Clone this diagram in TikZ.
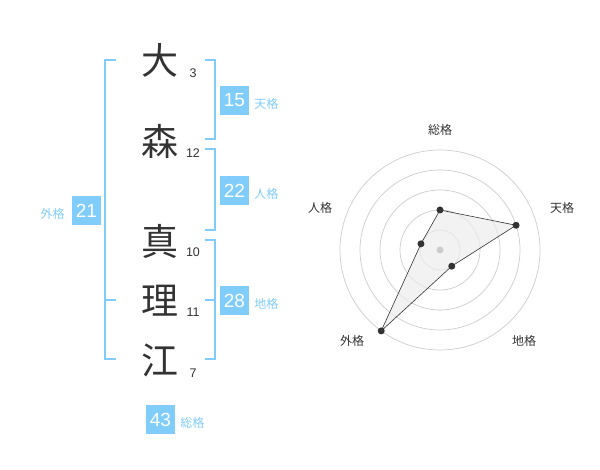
\documentclass[tikz,border=0pt]{standalone}
\usepackage{fontspec}
\setmainfont{Liberation Sans}
\newfontfamily\jpfont{Noto Sans CJK JP}
\usetikzlibrary{positioning}
\definecolor{kakusky}{HTML}{80CCFA}
\definecolor{textgray}{HTML}{333333}
\definecolor{ringgray}{HTML}{CCCCCC}
\tikzset{kanji/.style={font=\jpfont\fontsize{37}{37}\selectfont, text=textgray, inner sep=0pt},
            stroke/.style={font=\fontsize{12.5}{12.5}\selectfont, text=textgray, inner sep=0pt},
            kakubox/.style={fill=kakusky, text=white, minimum size=29pt, inner sep=0pt,
                font=\fontsize{19}{19}\selectfont},
            kakulabel/.style={font=\jpfont\fontsize{12}{12}\selectfont, text=kakusky, inner sep=0pt},
            bracket/.style={draw=kakusky, line width=1.8pt},
            ring/.style={draw=ringgray, line width=0.7pt},
            axislabel/.style={font=\jpfont\fontsize{12}{12}\selectfont, text=textgray, inner sep=0pt},
            dot/.style={circle, fill=textgray, inner sep=0pt, minimum size=7pt}}

\begin{document}
\begin{tikzpicture}[x=1pt,y=-1pt]
            \useasboundingbox (0,0) rectangle (600,470);
            \node[kanji] (c1) at (160,60) {大};
            \node[kanji] (c2) at (160,141) {森};
            \node[kanji] (c3) at (160,241) {真};
            \node[kanji] (c4) at (160,301) {理};
            \node[kanji] (c5) at (160,360) {江};
            \node[stroke] (s1) at (193,73) {3};
            \node[stroke] (s2) at (193,153) {12};
            \node[stroke] (s3) at (193,252) {10};
            \node[stroke] (s4) at (193,312) {11};
            \node[stroke] (s5) at (193,373) {7};
            \draw[bracket] (116,60) -| (105,359) -- (116,359);
            \draw[bracket] (105,300) -- (116,300);
            \draw[bracket] (205,60) -| (215,139) -- (205,139);
            \draw[bracket] (205,149) -| (215,230) -- (205,230);
            \draw[bracket] (205,240) -| (215,359) -- (205,359);
            \draw[bracket] (205,300) -- (215,300);
            \node[kakubox] (ten) at (234.5,100.5) {15};
            \node[kakulabel, right=5pt of ten, yshift=-3pt] (tenl) {天格};
            \node[kakubox] (jin) at (234.5,190.5) {22};
            \node[kakulabel, right=5pt of jin, yshift=-3pt] (jinl) {人格};
            \node[kakubox] (chi) at (234.5,300.5) {28};
            \node[kakulabel, right=5pt of chi, yshift=-3pt] (chil) {地格};
            \node[kakubox] (gai) at (86.5,210.5) {21};
            \node[kakulabel, left=7pt of gai, yshift=-3pt] (gail) {外格};
            \node[kakubox] (sou) at (160.5,419.5) {43};
            \node[kakulabel, right=5pt of sou, yshift=-3pt] (soul) {総格};
            \begin{scope}[shift={(440,250)}]
                \foreach \r in {20,40,...,100}
                    \draw[ring] (0,0) circle (\r);
                \node[axislabel] (lsou) at (0,-120) {総格};
                \node[axislabel] (lten) at (122,-42) {天格};
                \node[axislabel] (lchi) at (84,91) {地格};
                \node[axislabel] (lgai) at (-88,91) {外格};
                \node[axislabel] (ljin) at (-120,-42) {人格};
                \filldraw[fill=gray!15, fill opacity=0.7, draw=textgray, line width=0.6pt]
                    (-90:40) -- (-18:80) -- (54:20) -- (126:100) -- (198:20) -- cycle;
                \fill[ringgray] (0,0) circle (3.5);
                \node[dot] (psou) at (-90:40) {};
                \node[dot] (pten) at (-18:80) {};
                \node[dot] (pchi) at (54:20) {};
                \node[dot] (pgai) at (126:100) {};
                \node[dot] (pjin) at (198:20) {};
            \end{scope}
        \end{tikzpicture}
\end{document}
